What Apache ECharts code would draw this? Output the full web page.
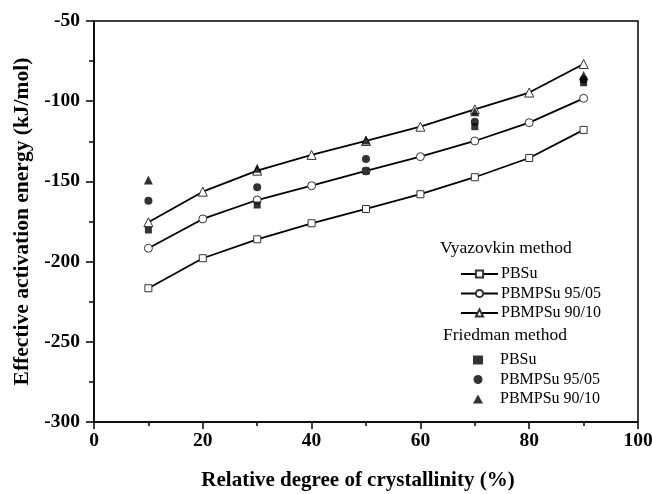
<!DOCTYPE html>
<html>
<head>
<meta charset="utf-8">
<script src="https://cdn.jsdelivr.net/npm/echarts@6/dist/echarts.min.js"></script>
<style>html,body{margin:0;padding:0;background:#fff}#c{width:652px;height:494px}</style>
</head>
<body>
<div id="c"></div>
<script>
// Vyazovkin method (lines + open markers)
const xV = [10, 20, 30, 40, 50, 60, 70, 80, 90];
const vPBSu   = [-216.6, -197.9, -186.1, -176.1, -167.2, -158.0, -147.4, -135.4, -117.9];
const vP9505  = [-191.7, -173.4, -161.6, -152.7, -143.5, -134.6, -124.8, -113.4, -98.2];
const vP9010  = [-175.5, -156.4, -143.3, -133.5, -124.8, -115.9, -105.1, -94.6, -76.8];
// Friedman method (filled markers only)
const xF = [10, 30, 50, 70, 90];
const fPBSu   = [-180.3, -164.7, -143.5, -115.9, -88.5];
const fP9505  = [-162.0, -153.7, -136.0, -112.8, -86.5];
const fP9010  = [-149.1, -141.8, -124.2, -106.5, -84.0];
// axis ticks
const xTicks = [0, 20, 40, 60, 80, 100];
const yTicks = [-300, -250, -200, -150, -100, -50];
const labels = ['PBSu', 'PBMPSu 95/05', 'PBMPSu 90/10'];

const FONT = '"Liberation Serif","Times New Roman",serif';
const zip = (xs, ys) => xs.map((x, i) => [x, ys[i]]);

const openStyle = {color: '#fff', borderColor: '#333', borderWidth: 1};
function vSeries(name, data, symbol, size) {
  return {
    name: name, type: 'line', data: zip(xV, data), symbol: symbol, symbolSize: size,
    lineStyle: {color: '#000', width: 1.8}, itemStyle: openStyle, z: 3,
    emphasis: {disabled: true}
  };
}
function fSeries(name, data, symbol, size) {
  return {
    name: name, type: 'scatter', data: zip(xF, data), symbol: symbol, symbolSize: size,
    itemStyle: {color: '#000'}, z: 4, emphasis: {disabled: true}
  };
}

const chart = echarts.init(document.getElementById('c'));
chart.setOption({
  animation: false,
  backgroundColor: '#fff',
  textStyle: {fontFamily: FONT},
  grid: {left: 94, right: 14, top: 21, bottom: 72, containLabel: false, outerBoundsMode: 'none',
         show: true, borderColor: '#000', borderWidth: 1.5, backgroundColor: 'transparent'},
  xAxis: {
    type: 'value', min: xTicks[0], max: xTicks[xTicks.length - 1], interval: 20,
    name: 'Relative degree of crystallinity (%)', nameLocation: 'middle', nameGap: 48,
    nameTextStyle: {fontFamily: FONT, fontWeight: 'bold', fontSize: 21, color: '#000', padding: [0, 16, 0, 0]},
    axisLine: {lineStyle: {color: '#000', width: 1.5}},
    axisTick: {show: true, length: 7, lineStyle: {color: '#000', width: 1.5}},
    minorTick: {show: true, splitNumber: 2, length: 4, lineStyle: {color: '#000', width: 1.5}},
    axisLabel: {fontFamily: FONT, fontWeight: 'bold', fontSize: 19.5, color: '#000', margin: 9},
    splitLine: {show: false}
  },
  yAxis: {
    type: 'value', min: yTicks[0], max: yTicks[yTicks.length - 1], interval: 50,
    name: 'Effective activation energy (kJ/mol)', nameLocation: 'middle', nameGap: 61,
    nameTextStyle: {fontFamily: FONT, fontWeight: 'bold', fontSize: 21.5, color: '#000'},
    axisLine: {lineStyle: {color: '#000', width: 1.5}},
    axisTick: {show: true, length: 8, lineStyle: {color: '#000', width: 1.5}},
    minorTick: {show: true, splitNumber: 2, length: 5, lineStyle: {color: '#000', width: 1.5}},
    axisLabel: {fontFamily: FONT, fontWeight: 'bold', fontSize: 19.5, color: '#000', margin: 14},
    splitLine: {show: false}
  },
  legend: [
    {
      orient: 'vertical', left: 455, top: 261, itemWidth: 37, itemHeight: 9, itemGap: 3.5,
      data: ['V-PBSu', 'V-9505', 'V-9010'],
      formatter: n => labels[['V-PBSu', 'V-9505', 'V-9010'].indexOf(n)],
      textStyle: {fontFamily: FONT, fontSize: 16, lineHeight: 16, color: '#000', padding: [0, 0, 0, -2]},
      selectedMode: false
    },
    {
      orient: 'vertical', left: 468, top: 347, itemWidth: 10, itemHeight: 9, itemGap: 3.5,
      data: ['F-PBSu', 'F-9505', 'F-9010'],
      formatter: n => labels[['F-PBSu', 'F-9505', 'F-9010'].indexOf(n)],
      textStyle: {fontFamily: FONT, fontSize: 16, lineHeight: 16, color: '#000', padding: [0, 0, 0, 12]},
      selectedMode: false
    }
  ],
  graphic: [
    {type: 'text', left: 440, top: 239, style: {text: 'Vyazovkin method', fontFamily: FONT, fontSize: 17.5, fill: '#000'}},
    {type: 'text', left: 443, top: 326, style: {text: 'Friedman method', fontFamily: FONT, fontSize: 17.5, fill: '#000'}}
  ],
  series: [
    vSeries('V-PBSu', vPBSu, 'rect', 7),
    vSeries('V-9505', vP9505, 'circle', 8),
    vSeries('V-9010', vP9010, 'triangle', 9),
    fSeries('F-PBSu', fPBSu, 'rect', 7),
    fSeries('F-9505', fP9505, 'circle', 8),
    fSeries('F-9010', fP9010, 'triangle', 9)
  ]
});
</script>
</body>
</html>
